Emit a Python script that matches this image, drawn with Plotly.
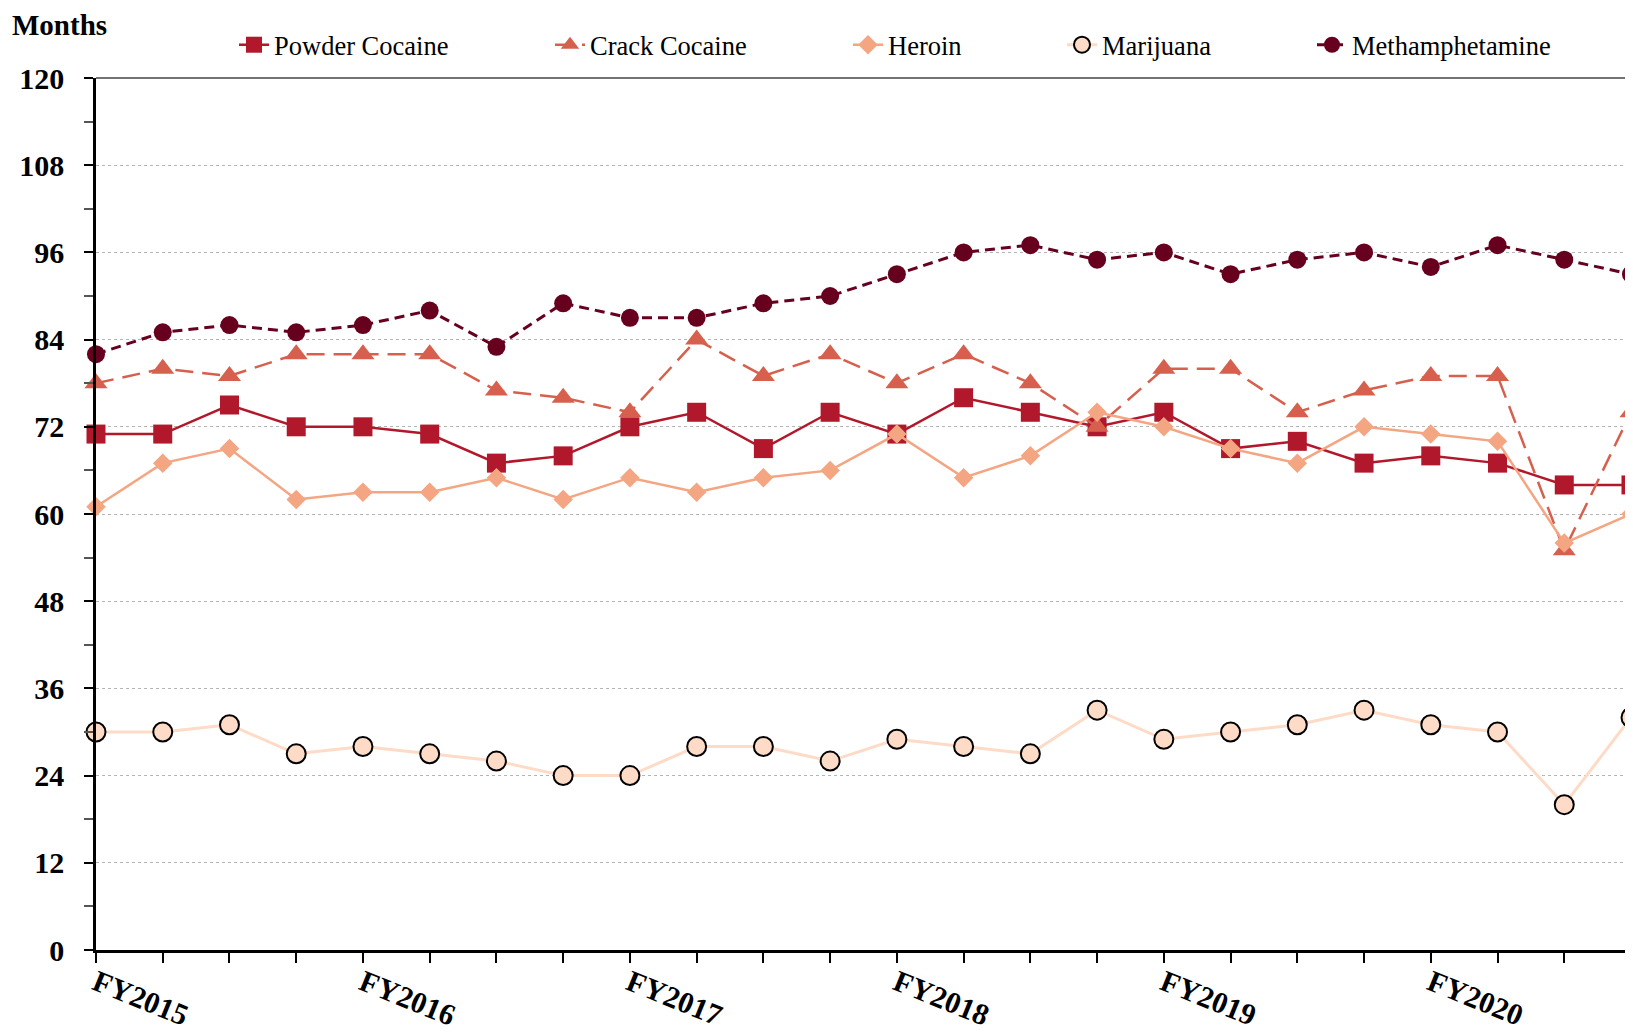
import plotly.graph_objects as go

quarters = list(range(24))
year_labels = ["FY2015", "FY2016", "FY2017", "FY2018", "FY2019", "FY2020"]
tick_text = [year_labels[i // 4] if i % 4 == 0 else "" for i in quarters]

powder_cocaine = [71, 71, 75, 72, 72, 71, 67, 68, 72, 74, 69, 74,
                  71, 76, 74, 72, 74, 69, 70, 67, 68, 67, 64, 64]
crack_cocaine = [78, 80, 79, 82, 82, 82, 77, 76, 74, 84, 79, 82,
                 78, 82, 78, 72, 80, 80, 74, 77, 79, 79, 55, 74]
heroin = [61, 67, 69, 62, 63, 63, 65, 62, 65, 63, 65, 66,
          71, 65, 68, 74, 72, 69, 67, 72, 71, 70, 56, 60]
marijuana = [30, 30, 31, 27, 28, 27, 26, 24, 24, 28, 28, 26,
             29, 28, 27, 33, 29, 30, 31, 33, 31, 30, 20, 32]
methamphetamine = [82, 85, 86, 85, 86, 88, 83, 89, 87, 87, 89, 90,
                   93, 96, 97, 95, 96, 93, 95, 96, 94, 97, 95, 93]

# page body has an 8px margin; work in page pixels and convert
OFF = 8
W, H = 1633 - OFF, 1034 - OFF
L, T = 96 - OFF, 78 - OFF
R = W - (1631 - OFF)
B = H - (950 - OFF)
PW = W - L - R
PH = H - T - B

def px_x(px):
    return (px - OFF - L) / PW

def px_y(py):
    return 1 + (T - (py - OFF)) / PH

fig = go.Figure()

series = [
    ("Powder Cocaine", powder_cocaine, "#B2182B", "solid", "square", 19, "#B2182B", 0, 2.5, "legend", 274),
    ("Crack Cocaine", crack_cocaine, "#D6604D", "18px,9px", "triangle-up", 20, "#D6604D", 0, 2.5, "legend2", 590),
    ("Heroin", heroin, "#F4A582", "solid", "diamond", 15, "#F4A582", 0, 2.5, "legend3", 888),
    ("Marijuana", marijuana, "#FDDBC7", "solid", "circle", 19, "#000000", 2, 3, "legend4", 1102),
    ("Methamphetamine", methamphetamine, "#67001F", "10px,6px", "circle", 18, "#67001F", 0, 3, "legend5", 1352),
]

for name, vals, color, dash, sym, size, lc, lw, width, leg, _ in series:
    fig.add_trace(go.Scatter(
        x=quarters, y=vals, name=name, mode="lines+markers",
        line=dict(color=color, width=width, dash=dash),
        marker=dict(symbol=sym, size=size, color=color, line=dict(color=lc, width=lw)),
        cliponaxis=False, legend=leg,
    ))

legend_font = dict(family="Liberation Serif", size=26.5, color="#000000")
legends = {}
for name, vals, color, dash, sym, size, lc, lw, width, leg, text_x in series:
    legends[leg] = dict(
        x=px_x(text_x - 40), y=px_y(45), xanchor="left", yanchor="middle",
        orientation="h", font=legend_font, bgcolor="rgba(0,0,0,0)",
        borderwidth=0, itemclick=False, itemdoubleclick=False,
    )

tick_font = dict(family="Liberation Serif", size=30, color="#000000", weight="bold")

fig.update_layout(
    width=W, height=H,
    margin=dict(l=L, r=R, t=T, b=B, autoexpand=False),
    paper_bgcolor="white", plot_bgcolor="white",
    showlegend=True,
    **legends,
    xaxis=dict(
        range=[0, 23], tickmode="array", tickvals=quarters, ticktext=tick_text,
        tickangle=22, tickfont=tick_font, ticks="outside", ticklen=10,
        tickcolor="#000000", tickwidth=1.5, automargin=False,
        ticklabelstandoff=-9,
        showline=True, linecolor="#000000", linewidth=2.5,
        showgrid=False, zeroline=False,
    ),
    yaxis=dict(
        range=[0, 120], tickmode="linear", tick0=0, dtick=12,
        tickfont=tick_font, ticks="outside", ticklen=9, tickcolor="#000000",
        tickwidth=1.5, ticklabelstandoff=14, automargin=False,
        minor=dict(dtick=6, ticks="outside", ticklen=9, tickcolor="#555555",
                   tickwidth=1.5, showgrid=False),
        showline=True, linecolor="#000000", linewidth=2.5,
        showgrid=True, gridcolor="#B5B5B5", griddash="dot", gridwidth=1,
        zeroline=False,
    ),
    shapes=[
        dict(type="line", xref="x domain", yref="y domain", x0=0, x1=1, y0=1, y1=1,
             line=dict(color="#444444", width=1.5)),
        dict(type="line", xref="x domain", yref="y domain", x0=1, x1=1, y0=0, y1=1,
             line=dict(color="#777777", width=2)),
    ],
    annotations=[
        dict(text="<b>Months</b>", xref="paper", yref="paper",
             x=px_x(11), y=1 + T / PH, xanchor="left", yanchor="top",
             borderpad=0,
             showarrow=False, font=dict(family="Liberation Serif", size=29, color="#000000")),
    ],
)

fig.write_html("out.html")
